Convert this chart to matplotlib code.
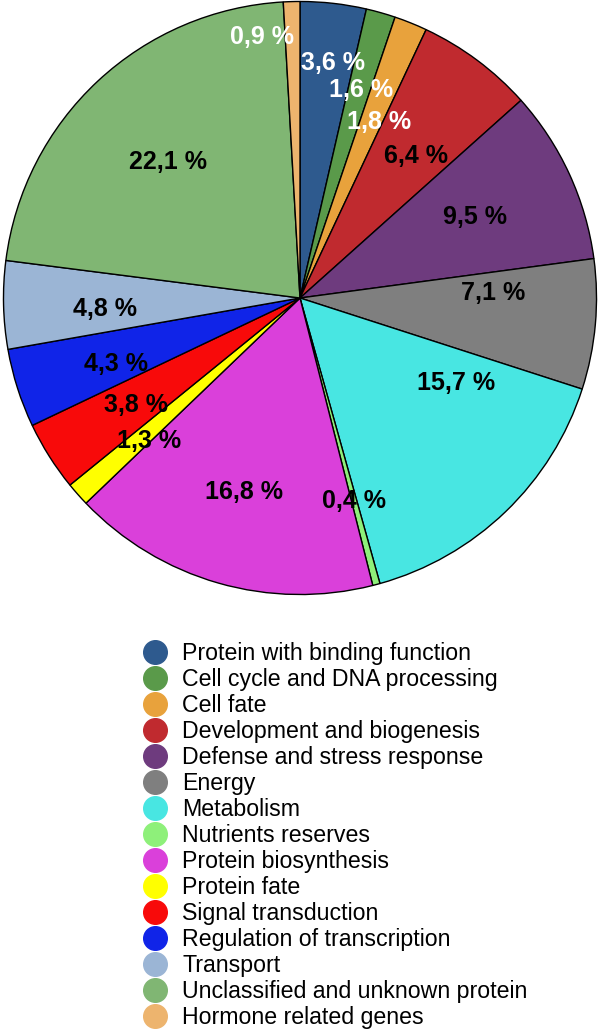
import matplotlib
matplotlib.use("Agg")
import matplotlib.pyplot as plt
from matplotlib.lines import Line2D
import numpy as np

plt.rcParams['font.family'] = ['Liberation Sans', 'DejaVu Sans']

categories = [
    "Protein with binding function",
    "Cell cycle and DNA processing",
    "Cell fate",
    "Development and biogenesis",
    "Defense and stress response",
    "Energy",
    "Metabolism",
    "Nutrients reserves",
    "Protein biosynthesis",
    "Protein fate",
    "Signal transduction",
    "Regulation of transcription",
    "Transport",
    "Unclassified and unknown protein",
    "Hormone related genes",
]
values = [3.6, 1.6, 1.8, 6.4, 9.5, 7.1, 15.7, 0.4, 16.8, 1.3, 3.8, 4.3, 4.8, 22.1, 0.9]
labels = ["3,6 %", "1,6 %", "1,8 %", "6,4 %", "9,5 %", "7,1 %", "15,7 %", "0,4 %",
          "16,8 %", "1,3 %", "3,8 %", "4,3 %", "4,8 %", "22,1 %", "0,9 %"]
colors = ["#2E5A8E", "#5A9A4A", "#E8A23C", "#C02A2F", "#6E3B7E", "#7F7F7F", "#48E6E2",
          "#8EF07A", "#DA40DA", "#FFFF00", "#F80A0A", "#1024E8", "#9BB5D5", "#80B673", "#EDB46E"]
text_colors = ["white", "white", "white", "black", "black", "black", "black", "black",
               "black", "black", "black", "black", "black", "black", "white"]
# label radius (fraction of pie radius) and angle shift in degrees
label_r = [0.80, 0.73, 0.65, 0.62, 0.65, 0.65, 0.60, 0.71, 0.68, 0.70, 0.66, 0.66, 0.66, 0.64, 0.89]
label_shift = [-1.5, -0.5, -2.3, -2.6, 0, 6.7, 17.7, 0, 0, 2, 1, 2, 2, 1.3, 6.7]

fig = plt.figure(figsize=(6, 10.34), dpi=100)
ax = fig.add_axes([0, 1 - 596 / 1034, 1, 596 / 1034])
wedges, _ = ax.pie(values, colors=colors, startangle=90, counterclock=False,
                   wedgeprops=dict(edgecolor="black", linewidth=1.0))
ax.set_xlim(-1.005, 1.005)
ax.set_ylim(-1.005, 1.005)
ax.set_aspect("equal")
ax.axis("off")

for w, lab, tc, r, s in zip(wedges, labels, text_colors, label_r, label_shift):
    ang = np.deg2rad((w.theta1 + w.theta2) / 2 + s)
    ax.text(r * np.cos(ang), r * np.sin(ang), lab, ha="center", va="center",
            fontsize=18, fontweight="bold", color=tc)

handles = [Line2D([], [], marker="o", linestyle="none", markersize=17,
                  markerfacecolor=c, markeredgecolor=c) for c in colors]
fig.legend(handles, categories, loc="upper left", bbox_to_anchor=(132 / 600, 1 - 633 / 1034),
           frameon=False, fontsize=16.7, labelspacing=0.13, handletextpad=0.56,
           handlelength=1.2, borderpad=0.4, borderaxespad=0)

fig.savefig("out.png", dpi=100)
